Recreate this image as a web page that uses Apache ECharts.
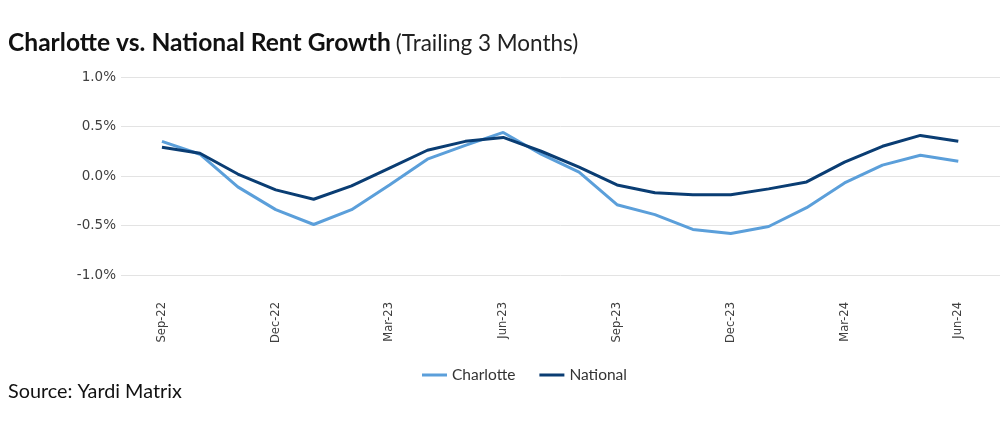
<!DOCTYPE html>
<html>
<head>
<meta charset="utf-8">
<script src="https://cdn.jsdelivr.net/npm/echarts@6/dist/echarts.min.js"></script>
<style>
  html, body { margin: 0; padding: 0; background: #fff; }
  #chart { width: 1007px; height: 433px; }
</style>
</head>
<body>
<div id="chart"></div>
<script>
// months Sep-22 .. Jun-24
const months = ['Sep-22', 'Oct-22', 'Nov-22', 'Dec-22', 'Jan-23', 'Feb-23', 'Mar-23', 'Apr-23',
  'May-23', 'Jun-23', 'Jul-23', 'Aug-23', 'Sep-23', 'Oct-23', 'Nov-23', 'Dec-23',
  'Jan-24', 'Feb-24', 'Mar-24', 'Apr-24', 'May-24', 'Jun-24']
const labelIdx = [0, 3, 6, 9, 12, 15, 18, 21]
const charlotte = [0.35, 0.22, -0.11, -0.34, -0.49, -0.34, -0.09, 0.17, 0.31, 0.44, 0.22, 0.04,
  -0.29, -0.39, -0.54, -0.58, -0.51, -0.32, -0.07, 0.11, 0.21, 0.15]
const national = [0.29, 0.23, 0.02, -0.14, -0.235, -0.10, 0.08, 0.26, 0.35, 0.39, 0.25, 0.09,
  -0.09, -0.17, -0.19, -0.19, -0.13, -0.06, 0.14, 0.30, 0.41, 0.35]
const yTicks = [-1.0, -0.5, 0.0, 0.5, 1.0]

const chart = echarts.init(document.getElementById('chart'), null, { renderer: 'canvas' })
const font = 'Lato, "Open Sans", sans-serif'
const axisFont = '"DejaVu Sans", sans-serif'

const option = {
  animation: false,
  color: ['#5B9FDA', '#0A3D73'],
  title: {
    left: 3,
    top: 26,
    text: '{b|Charlotte vs. National Rent Growth} {r|(Trailing 3 Months)}',
    textStyle: {
      rich: {
        b: { fontFamily: font, fontWeight: 'bold', fontSize: 24.6, color: '#111' },
        r: { fontFamily: font, fontWeight: 'normal', fontSize: 22.5, color: '#222' }
      }
    }
  },
  graphic: [{
    type: 'text',
    left: 8,
    top: 382,
    style: { text: 'Source: Yardi Matrix', fontFamily: font, fontSize: 19.8, fill: '#111' }
  }],
  legend: {
    bottom: 45,
    left: 417,
    icon: 'rect',
    itemWidth: 25,
    itemHeight: 3,
    itemGap: 24,
    textStyle: { fontFamily: font, fontSize: 15.5, color: '#333' },
    data: ['Charlotte', 'National']
  },
  grid: { left: 121, right: 7, top: 77, bottom: 158, containLabel: false },
  xAxis: {
    type: 'value',
    min: -1.08,
    max: 22.1,
    axisLine: { show: false },
    axisTick: { show: false },
    splitLine: { show: false },
    axisLabel: {
      customValues: labelIdx,
      rotate: 90,
      margin: 27,
      fontFamily: axisFont,
      fontSize: 11.5,
      color: '#404040',
      formatter: v => months[v] || ''
    }
  },
  yAxis: {
    type: 'value',
    min: -1.0,
    max: 1.0,
    interval: 0.5,
    axisLine: { show: false },
    axisTick: { show: false },
    splitLine: { lineStyle: { color: '#e3e3e3', width: 1 } },
    axisLabel: {
      margin: 5,
      fontFamily: axisFont,
      fontSize: 13.5,
      color: '#404040',
      formatter: v => v.toFixed(1) + '%'
    }
  },
  series: [
    {
      name: 'Charlotte',
      type: 'line',
      showSymbol: false,
      lineStyle: { width: 3 },
      data: charlotte.map((v, i) => [i, v])
    },
    {
      name: 'National',
      type: 'line',
      showSymbol: false,
      lineStyle: { width: 3 },
      data: national.map((v, i) => [i, v])
    }
  ]
}
chart.setOption(option)
</script>
</body>
</html>
